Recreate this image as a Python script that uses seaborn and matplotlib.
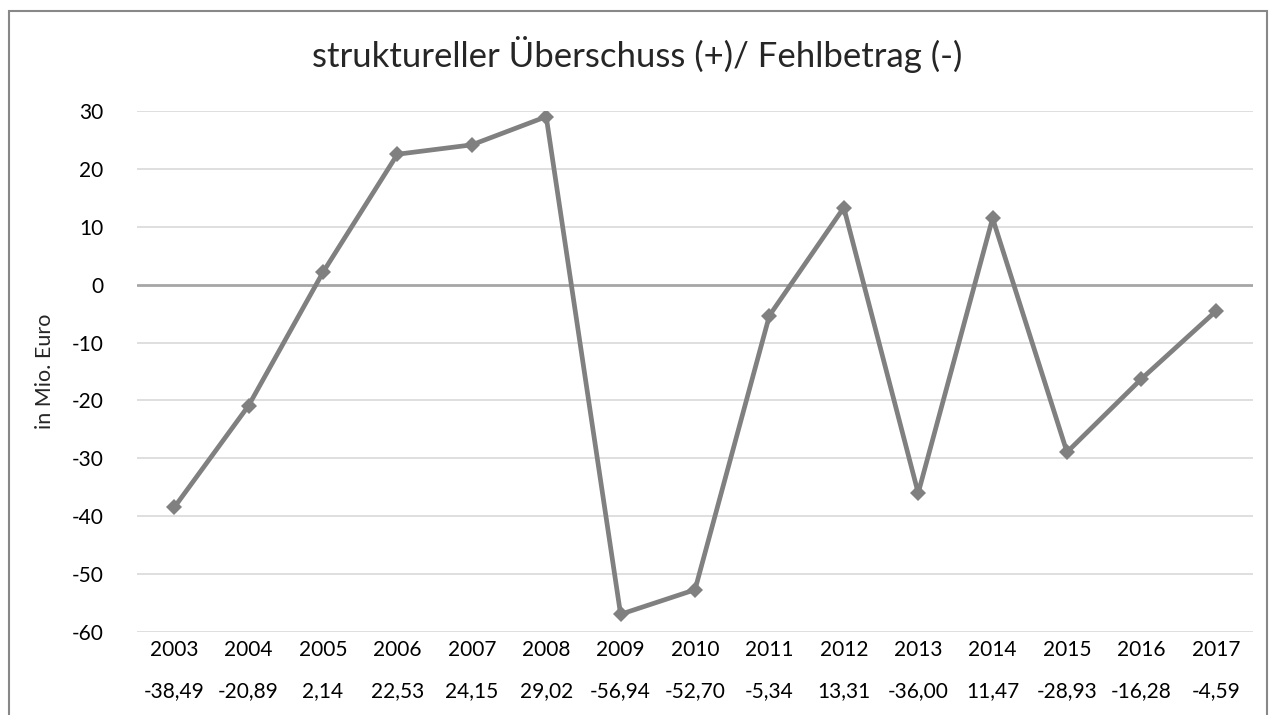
import matplotlib.pyplot as plt
import seaborn as sns
import pandas as pd
from matplotlib.patches import Rectangle

years = ["2003", "2004", "2005", "2006", "2007", "2008", "2009", "2010",
         "2011", "2012", "2013", "2014", "2015", "2016", "2017"]
values = [-38.49, -20.89, 2.14, 22.53, 24.15, 29.02, -56.94, -52.70,
          -5.34, 13.31, -36.00, 11.47, -28.93, -16.28, -4.59]
y_ticks = [30, 20, 10, 0, -10, -20, -30, -40, -50, -60]

df = pd.DataFrame({"Jahr": years, "Wert": values})

sns.set_style("white")
plt.rcParams["font.family"] = ["Lato", "DejaVu Sans"]

fig = plt.figure(figsize=(12.74, 7.15), dpi=100)
ax = fig.add_axes([137 / 1274, 1 - 632 / 715, (1253 - 137) / 1274, (632 - 111) / 715])

for t in y_ticks:
    if t != 0:
        ax.axhline(t, color="#d9d9d9", linewidth=1.2, zorder=0)
ax.axhline(0, color="#a6a6a6", linewidth=2, zorder=1)

sns.lineplot(
    data=df,
    x="Jahr",
    y="Wert",
    color="#808080",
    linewidth=3.4,
    marker="D",
    markersize=8,
    markeredgewidth=0,
    sort=False,
    ax=ax,
    zorder=3
)

ax.set_xlim(-0.5, len(years) - 0.5)
ax.set_ylim(-60, 30)
ax.set_yticks(y_ticks)
ax.set_yticklabels([str(t) for t in y_ticks], fontsize=15)

labels = [f"{y}\n{v:.2f}".replace(".", ",") for y, v in zip(years, values)]
ax.set_xticks(range(len(years)))
ax.set_xticklabels(labels, fontsize=15, linespacing=2.3)
ax.tick_params(axis="both", length=0, pad=6, colors="#000000")
ax.tick_params(axis="y", pad=24)

ax.set_xlabel("")
ax.set_ylabel("in Mio. Euro", fontsize=15.5, labelpad=12)

for s in ax.spines.values():
    s.set_visible(False)

fig.suptitle("struktureller Überschuss (+)/ Fehlbetrag (-)", fontsize=25, y=0.95)

fig.patches.append(Rectangle((9 / 1274, -0.05), 1258 / 1274, 1.05 - 11 / 715,
                             transform=fig.transFigure, fill=False,
                             edgecolor="#888888", linewidth=1.5))

plt.savefig("out.png", dpi=100)
plt.close()
